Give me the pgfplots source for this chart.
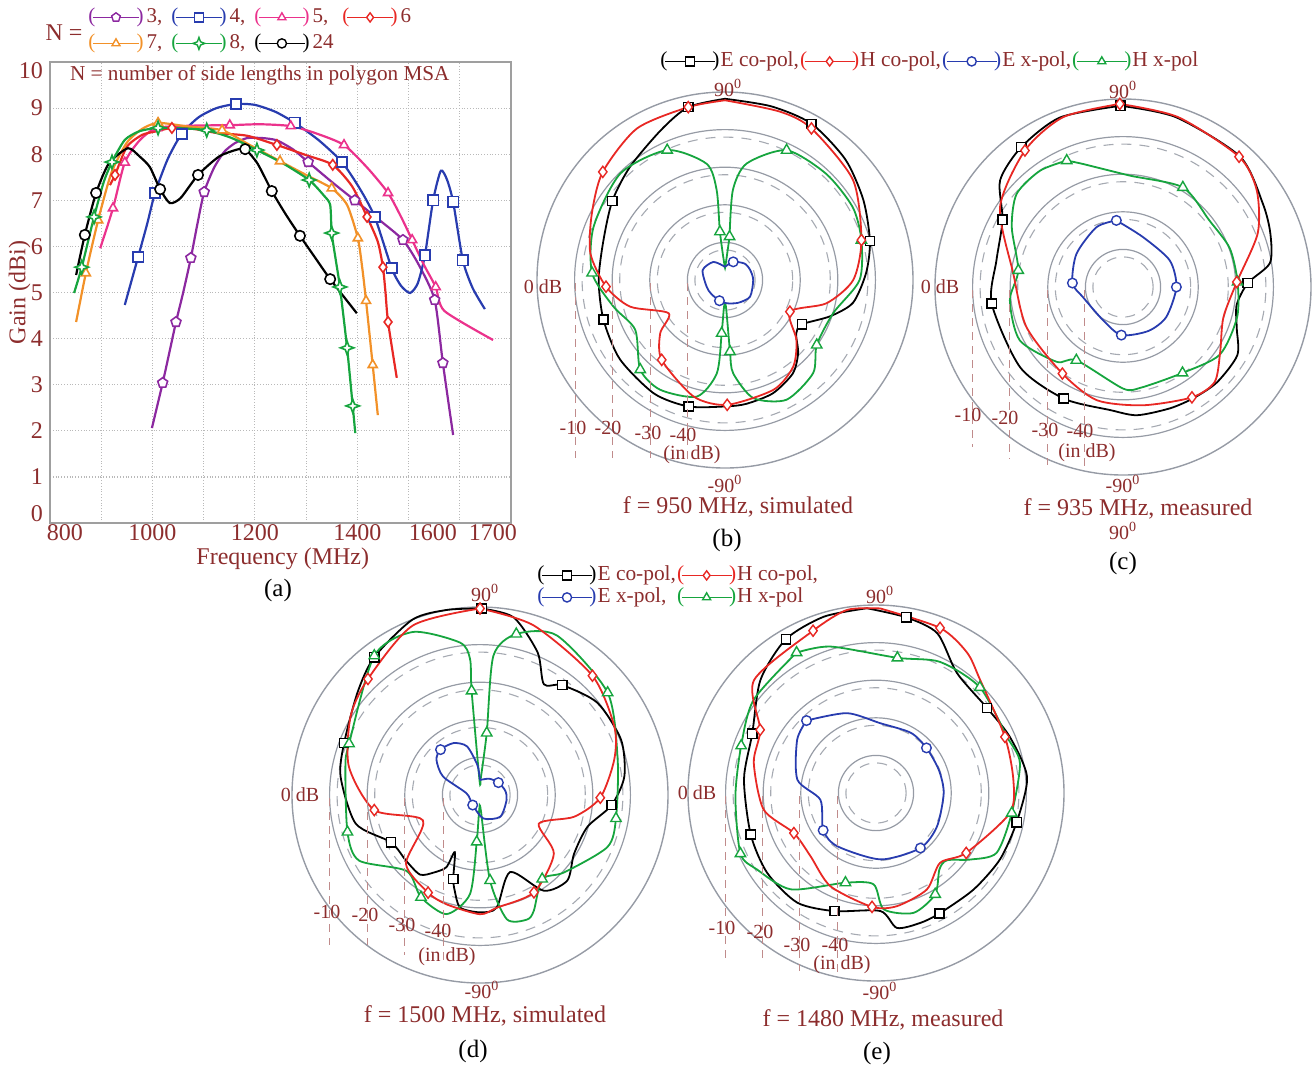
\documentclass[border=0pt]{standalone}
\usepackage{pgfplots}
\pgfplotsset{compat=1.18}
\usepgfplotslibrary{polar}
\usepackage{fontspec}
\setmainfont{Liberation Serif}

\definecolor{txt}{RGB}{140,45,45}
\definecolor{cpurple}{RGB}{140,40,160}
\definecolor{cblue}{RGB}{40,60,175}
\definecolor{cpink}{RGB}{235,50,140}
\definecolor{cred}{RGB}{232,40,36}
\definecolor{corange}{RGB}{242,145,40}
\definecolor{cgreen}{RGB}{22,165,62}
\definecolor{ringgray}{RGB}{150,155,165}

\pgfdeclareplotmark{fourstar}{%
 \pgfpathmoveto{\pgfqpoint{0pt}{1.3\pgfplotmarksize}}%
 \pgfpathlineto{\pgfqpoint{0.35\pgfplotmarksize}{0.35\pgfplotmarksize}}%
 \pgfpathlineto{\pgfqpoint{1.3\pgfplotmarksize}{0pt}}%
 \pgfpathlineto{\pgfqpoint{0.35\pgfplotmarksize}{-0.35\pgfplotmarksize}}%
 \pgfpathlineto{\pgfqpoint{0pt}{-1.3\pgfplotmarksize}}%
 \pgfpathlineto{\pgfqpoint{-0.35\pgfplotmarksize}{-0.35\pgfplotmarksize}}%
 \pgfpathlineto{\pgfqpoint{-1.3\pgfplotmarksize}{0pt}}%
 \pgfpathlineto{\pgfqpoint{-0.35\pgfplotmarksize}{0.35\pgfplotmarksize}}%
 \pgfpathclose\pgfusepathqfillstroke}

\pgfplotsset{
 pstyle/.style={scale only axis, width=188pt, height=188pt, anchor=center,
   xmin=0, xmax=360, ymin=0, ymax=50, y filter/.expression={y+50},
   xtick=\empty, ytick={10,20,30,40}, minor ytick={8,18,28,38}, yticklabels={},
   ymajorgrids=true, yminorgrids=true,
   major grid style={ringgray, line width=0.6pt},
   minor grid style={ringgray!85, line width=0.55pt, dash pattern=on 5pt off 4pt},
   axis line style={ringgray, line width=0.7pt}, y axis line style={draw=none},
   tick style={draw=none}, clip=false},
 ecop/.style={black, line width=0.9pt, smooth, tension=0.45, mark=none},
 hcop/.style={cred, line width=0.9pt, smooth, tension=0.45, mark=none},
 exp/.style={cblue, line width=0.9pt, smooth, tension=0.45, mark=none},
 hxp/.style={cgreen, line width=0.9pt, smooth, tension=0.45, mark=none},
 ecopm/.style={black, only marks, mark=square*, mark size=2.3pt, mark options={fill=white, line width=0.7pt}},
 hcopm/.style={cred, only marks, mark=diamond*, mark size=2.8pt, mark options={fill=white, line width=0.7pt}},
 expm/.style={cblue, only marks, mark=*, mark size=2.4pt, mark options={fill=white, line width=0.7pt}},
 hxpm/.style={cgreen, only marks, mark=triangle*, mark size=3pt, mark options={fill=white, line width=0.7pt}},
 acurve/.style={#1, line width=1.1pt, smooth, tension=0.4, mark=none},
 amark/.style 2 args={#1, only marks, mark=#2, mark size=2.6pt, mark options={fill=white, line width=0.8pt}},
}

\newcommand{\legimg}[4]{%
\addlegendimage{legend image code/.code={%
 \node[text=#1, inner sep=0pt, anchor=west, font=\fontsize{#4}{#4}\selectfont] at (0pt,0pt) {(};%
 \draw[#1, line width=0.9pt] (2.5pt,0pt) -- (#3-2.5pt,0pt);%
 \draw[#1, line width=0.7pt, mark=#2, mark size=2.3pt, mark options={fill=white, solid}] plot coordinates {(0.5*#3,0pt)};%
 \node[text=#1, inner sep=0pt, anchor=east, font=\fontsize{#4}{#4}\selectfont] at (#3,0pt) {)};%
}}}

\tikzset{
 lab/.style={text=txt, font=\fontsize{10}{11}\selectfont, inner sep=0pt},
 tit/.style={text=txt, font=\fontsize{12}{13}\selectfont, inner sep=0pt},
 pan/.style={text=black, font=\fontsize{12.5}{14}\selectfont, inner sep=0pt},
 refl/.style={txt!55, dash pattern=on 4pt off 3pt, line width=0.5pt},
}

\begin{document}
\begin{tikzpicture}[x=0.5pt, y=-0.5pt]
\path[use as bounding box] (0,0) rectangle (1312,1067);

% ================= (a) =================
\begin{axis}[at={(25pt,-261.5pt)}, anchor=south west, scale only axis,
  width=230.5pt, height=230.5pt,
  xmin=800, xmax=1700, ymin=0, ymax=10,
  xtick={800,1000,1200,1400,1600,1700},
  xticklabels={\hspace*{15pt}800,1000,1200,1400,1600\hspace*{27pt},1700\hspace*{18pt}},
  minor xtick={900,1100,1300,1500},
  ytick={0,1,2,3,4,5,6,7,8,9,10},
  yticklabels={\raisebox{1pt}[0pt][0pt]{0},1,2,3,4,5,6,7,8,9,\raisebox{-8pt}[0pt][0pt]{10}},
  xmajorgrids, xminorgrids, ymajorgrids,
  major grid style={gray!55, densely dotted, line width=0.6pt},
  minor grid style={gray!55, densely dotted, line width=0.6pt},
  axis line style={gray!75, line width=0.9pt},
  tick style={draw=none},
  ticklabel style={text=txt, font=\fontsize{12}{13}\selectfont},
  xticklabel style={yshift=3pt},
  label style={text=txt, font=\fontsize{12}{13}\selectfont},
  xlabel={Frequency (MHz)}, ylabel={Gain (dBi)},
  xlabel style={at={(axis description cs:0.505,-0.077)}, anchor=center},
  ylabel style={at={(axis description cs:-0.066,0.5)}, anchor=center},
  clip=false]
\node[text=txt, font=\fontsize{10.6}{12}\selectfont, inner sep=0pt] at (axis description cs:0.455,0.972) {N = number of side lengths in polygon MSA};
% N=3
\addplot[acurve=cpurple] coordinates {(999,2.06) (1020,3.04) (1035,3.8) (1046,4.36) (1060,5.0) (1075,5.75) (1088,6.5) (1101,7.18) (1120,7.7) (1140,8.05) (1161,8.24) (1185,8.35) (1215,8.35) (1243,8.3) (1275,8.1) (1304,7.83) (1350,7.4) (1395,7.0) (1440,6.6) (1489,6.14) (1520,5.6) (1551,4.84) (1567,3.47) (1587,1.91)};
\addplot[amark={cpurple}{pentagon*}] coordinates {(1020,3.04) (1046,4.36) (1075,5.75) (1101,7.18) (1304,7.83) (1395,7.0) (1489,6.14) (1551,4.84) (1567,3.47)};
% N=4
\addplot[acurve=cblue] coordinates {(946,4.73) (972,5.77) (990,6.5) (1005,7.16) (1030,7.9) (1057,8.44) (1090,8.8) (1125,9.0) (1163,9.09) (1200,9.07) (1240,8.92) (1278,8.68) (1325,8.3) (1370,7.83) (1405,7.25) (1434,6.64) (1467,5.53) (1485,5.15) (1503,4.99) (1518,5.2) (1532,5.81) (1548,7.0) (1563,7.64) (1575,7.45) (1587,6.97) (1606,5.7) (1625,5.1) (1649,4.64)};
\addplot[amark={cblue}{square*}] coordinates {(972,5.77) (1005,7.16) (1057,8.44) (1163,9.09) (1278,8.68) (1370,7.83) (1434,6.64) (1467,5.53) (1532,5.81) (1548,7.0) (1587,6.97) (1606,5.7)};
% N=5
\addplot[acurve=cpink] coordinates {(898,5.96) (923,6.83) (946,7.82) (975,8.3) (1009,8.57) (1080,8.62) (1151,8.63) (1210,8.65) (1270,8.61) (1320,8.45) (1374,8.2) (1420,7.7) (1460,7.16) (1485,6.65) (1507,6.14) (1530,5.6) (1553,5.12) (1570,4.6) (1665,3.97)};
\addplot[amark={cpink}{triangle*}] coordinates {(923,6.83) (946,7.82) (1009,8.57) (1151,8.63) (1270,8.61) (1374,8.2) (1460,7.16) (1507,6.14) (1553,5.12)};
% N=6
\addplot[acurve=cred] coordinates {(917,7.33) (927,7.55) (950,8.16) (980,8.42) (1009,8.5) (1038,8.57) (1080,8.55) (1126,8.46) (1185,8.4) (1243,8.2) (1300,7.98) (1352,7.77) (1390,7.3) (1419,6.64) (1440,6.1) (1450,5.55) (1455,5.0) (1460,4.36) (1477,3.15)};
\addplot[amark={cred}{diamond*}] coordinates {(927,7.55) (1038,8.57) (1243,8.2) (1352,7.77) (1419,6.64) (1450,5.55) (1460,4.36)};
% N=7
\addplot[acurve=corange] coordinates {(851,4.36) (870,5.42) (894,6.57) (920,7.6) (950,8.25) (980,8.55) (1011,8.68) (1070,8.6) (1136,8.52) (1190,8.2) (1249,7.85) (1300,7.55) (1350,7.26) (1380,6.9) (1401,6.18) (1410,5.5) (1417,4.82) (1430,3.43) (1440,2.34)};
\addplot[amark={corange}{triangle*}] coordinates {(870,5.42) (894,6.57) (1011,8.68) (1136,8.52) (1249,7.85) (1350,7.26) (1401,6.18) (1417,4.82) (1430,3.43)};
% N=24
\addplot[acurve=black] coordinates {(851,5.38) (868,6.25) (890,7.16) (915,7.8) (952,8.13) (975,7.95) (995,7.72) (1015,7.24) (1034,6.94) (1055,7.05) (1089,7.55) (1130,7.95) (1165,8.1) (1181,8.11) (1205,7.8) (1233,7.2) (1260,6.7) (1288,6.23) (1318,5.75) (1347,5.29) (1399,4.55)};
\addplot[amark={black}{*}] coordinates {(868,6.25) (890,7.16) (1015,7.24) (1089,7.55) (1181,8.11) (1233,7.2) (1288,6.23) (1347,5.29)};
% N=8
\addplot[acurve=cgreen] coordinates {(847,4.99) (862,5.55) (886,6.64) (905,7.4) (921,7.83) (946,8.31) (975,8.5) (1011,8.57) (1060,8.56) (1106,8.52) (1155,8.35) (1204,8.09) (1255,7.8) (1306,7.44) (1335,7.1) (1347,6.9) (1350,6.29) (1358,5.7) (1366,5.12) (1380,3.80) (1391,2.54) (1396,1.95)};
\addplot[amark={cgreen}{fourstar}] coordinates {(862,5.55) (886,6.64) (921,7.83) (1011,8.57) (1106,8.52) (1204,8.09) (1306,7.44) (1350,6.29) (1366,5.12) (1380,3.80) (1391,2.54)};
\end{axis}

% legend (a)
\node[text=txt, font=\fontsize{12}{13}\selectfont, inner sep=0pt] at (64,33) {N =};
\begin{axis}[hide axis, scale only axis, width=2pt, height=2pt, xmin=0, xmax=1, ymin=0, ymax=1,
  at={(44pt,-2pt)}, anchor=north west, legend columns=4,
  legend style={at={(0,1)}, anchor=north west, draw=none, fill=none, inner sep=0pt,
    font=\fontsize{10.5}{12}\selectfont, text=txt, legend cell align=left,
    nodes={inner sep=1.5pt, text height=7.5pt, text depth=2.5pt},
    /tikz/every even column/.append style={column sep=3pt}}]
\legimg{cpurple}{pentagon*}{28pt}{10.5}\addlegendentry{3,}
\legimg{cblue}{square*}{28pt}{10.5}\addlegendentry{4,}
\legimg{cpink}{triangle*}{28pt}{10.5}\addlegendentry{5,}
\legimg{cred}{diamond*}{28pt}{10.5}\addlegendentry{6}
\legimg{corange}{triangle*}{28pt}{10.5}\addlegendentry{7,}
\legimg{cgreen}{fourstar}{28pt}{10.5}\addlegendentry{8,}
\legimg{black}{*}{28pt}{10.5}\addlegendentry{24}
\end{axis}
\node[pan] at (278,590) {(a)};

% ================= (b) =================
\begin{polaraxis}[pstyle, at={(362.5pt,-140pt)}]
\addplot[ecop] coordinates {(90,-1.8) (75,-2.2) (61,-2.5) (45,-4.7) (30,-7.5) (15,-10.1) (3,-12.4) (-10,-15.4) (-19,-20.4) (-30,-26.4) (-37,-26.3) (-45,-22.5) (-54,-19.3) (-67,-17.3) (-80,-16.6) (-89,-16.4) (-106,-15) (-122,-14.4) (-143,-15) (-162,-16) (-180,-16.4) (-198,-16) (-215,-13.4) (-230,-10.7) (-247,-6.6) (-258,-3) (-270,-1.8)};
\addplot[ecopm] coordinates {(-258,-3) (61,-2.5) (15,-10.1) (-30,-26.4) (-106,-15) (-162,-16) (-215,-13.4)};
\addplot[hxp] coordinates {(84,-38.4) (85,-26) (79.5,-18.5) (64.6,-11.8) (46.4,-11) (29.7,-10.9) (16.3,-12.2) (0,-14.2) (-17,-19.9) (-35.3,-20.1) (-46.6,-15.9) (-62.8,-14.2) (-76.5,-17.7) (-85,-25.1) (-86,-30.9) (-88,-42.9) (-92,-42.9) (-93.6,-35.8) (-95,-25.1) (-103.6,-18.1) (-120.6,-16.1) (-133.4,-17.2) (-151,-22.7) (-166.6,-19.5) (-183,-14.6) (-202,-12.3) (-225.5,-10.3) (-246,-12.2) (-261,-18.7) (-264.7,-26) (-264,-37.1) (-268,-46) (-272,-46) (-276,-38.4)};
\addplot[hxpm] coordinates {(84,-38.4) (64.6,-11.8) (16.3,-12.2) (-35.3,-20.1) (-86,-30.9) (-93.6,-35.8) (-133.4,-17.2) (-183,-14.6) (-246,-12.2) (-264,-37.1)};
\addplot[exp] coordinates {(90,-46.5) (65.6,-44.7) (40,-43.2) (21.8,-42.8) (0,-42.5) (-33.7,-42) (-60,-43) (-86,-43.8) (-105,-44.3) (-135,-44.8) (-160,-44.8) (-204,-43.5) (-237.5,-44.3) (-270,-46.5)};
\addplot[expm] coordinates {(65.6,-44.7) (-105,-44.3)};
\addplot[hcop] coordinates {(90,-2.2) (72,-2.9) (60.3,-3.6) (38,-6.8) (16.3,-12.2) (0,-15.9) (-12.9,-22.3) (-26,-30.8) (-40,-25.2) (-51.7,-20.7) (-66,-18.1) (-89,-16.8) (-105,-17.9) (-128.4,-22.9) (-140.6,-27.7) (-149.5,-32.6) (-164.3,-23.8) (-176.8,-18.3) (-191.2,-13.5) (-206.6,-10.4) (-221.5,-6.6) (-239.8,-3.4) (-258,-3.0) (-270,-2.2)};
\addplot[hcopm] coordinates {(60.3,-3.6) (16.3,-12.2) (-26,-30.8) (-89,-16.8) (-128.4,-22.9) (-176.8,-18.3) (-221.5,-6.6) (-258,-3.0)};
\end{polaraxis}
\begin{scope}[shift={(725,280)}]
\draw[refl] (-150,3) -- (-150,178);
\draw[refl] (-113,3) -- (-113,178);
\draw[refl] (-75,3) -- (-75,178);
\draw[refl] (-38,3) -- (-38,180);
\node[lab] at (-152,148) {-10};
\node[lab] at (-117,148) {-20};
\node[lab] at (-77,153) {-30};
\node[lab] at (-42,155) {-40};
\node[lab] at (-33,175) {(in dB)};
\node[lab] at (-182,7) {0 dB};
\node[lab] at (3,-192) {90\textsuperscript{0}};
\node[lab] at (0,204) {-90\textsuperscript{0}};
\end{scope}
\node[tit] at (738,507) {f = 950 MHz, simulated};
\node[pan] at (727,540) {(b)};

% ================= (c) =================
\begin{polaraxis}[pstyle, at={(561.5pt,-143.5pt)}]
\addplot[ecop] coordinates {(90.8,-1.8) (72.6,-2.7) (48,-3.4) (30.8,-6.7) (20,-8.3) (9.3,-10.4) (1.8,-16.8) (-9,-19.4) (-20,-17.8) (-30.8,-14.6) (-45.3,-14.4) (-57.5,-15.0) (-68.8,-15.4) (-83.8,-15.7) (-96,-17.1) (-118,-16.4) (-142,-15.3) (-172.8,-14.8) (-192,-15.6) (-209.2,-13.3) (-221,-6.7) (-234,-4.0) (-249.6,-1.9) (-269.2,-1.8)};
\addplot[ecopm] coordinates {(90.8,-1.8) (1.8,-16.8) (-118,-16.4) (-172.8,-14.8) (-209.2,-13.3) (-234,-4.0)};
\addplot[hxp] coordinates {(114,-13.2) (108,-15.6) (86.6,-20.3) (59,-19.1) (37.6,-21) (20,-19.8) (2.5,-19.5) (-15,-18.6) (-35,-18.6) (-55.3,-22.2) (-80,-22.8) (-90,-23) (-122.5,-26.9) (-131.6,-23.4) (-152.7,-19.1) (-173.3,-19.7) (-189,-21.8) (-208.3,-16.4) (-221.2,-12.4) (-234.5,-12) (-246,-13.2)};
\addplot[hxpm] coordinates {(114,-13.2) (59,-19.1) (2.5,-19.5) (-55.3,-22.2) (-122.5,-26.9) (-189,-21.8)};
\addplot[exp] coordinates {(95.7,-32.2) (68.2,-35.7) (29.7,-35.7) (0,-35.8) (-34.7,-36) (-60,-36.5) (-92,-37.2) (-121,-39.7) (-166,-39) (-184.5,-36.5) (-215.5,-34.8) (-246,-32.6) (-264.3,-32.2)};
\addplot[expm] coordinates {(95.7,-32.2) (0,-35.8) (-92,-37.2) (-184.5,-36.5)};
\addplot[hcop] coordinates {(91,-1.3) (72,-2.5) (48.3,-3.6) (35.9,-6.1) (21.8,-11.4) (2.5,-19.7) (-17,-22.1) (-33.8,-18.9) (-46,-14.9) (-58,-15.4) (-80.4,-18.1) (-103,-19.1) (-125,-21.9) (-157.5,-22.2) (-187,-20.6) (-213,-11) (-234.3,-5.3) (-250.6,-2.1) (-269,-1.3)};
\addplot[hcopm] coordinates {(91,-1.3) (48.3,-3.6) (2.5,-19.7) (-58,-15.4) (-125,-21.9) (-234.3,-5.3)};
\end{polaraxis}
\begin{scope}[shift={(1123,287)}]
\draw[refl] (-151,3) -- (-151,160);
\draw[refl] (-114,3) -- (-114,172);
\draw[refl] (-76,3) -- (-76,178);
\draw[refl] (-39,3) -- (-39,180);
\node[lab] at (-155,128) {-10};
\node[lab] at (-118,131) {-20};
\node[lab] at (-78,143) {-30};
\node[lab] at (-43,144) {-40};
\node[lab] at (-36,166) {(in dB)};
\node[lab] at (-183,0) {0 dB};
\node[lab] at (0,-197) {90\textsuperscript{0}};
\node[lab] at (0,197) {-90\textsuperscript{0}};
\end{scope}
\node[tit] at (1138,509) {f = 935 MHz, measured};
\node[lab] at (1123,531) {90\textsuperscript{0}};
\node[pan] at (1123,563) {(c)};

% legend (b)/(c)
\begin{axis}[hide axis, scale only axis, width=2pt, height=2pt, xmin=0, xmax=1, ymin=0, ymax=1,
  at={(330pt,-25pt)}, anchor=north west, legend columns=4,
  legend style={at={(0,1)}, anchor=north west, draw=none, fill=none, inner sep=0pt,
    font=\fontsize{10.7}{12}\selectfont, text=txt, legend cell align=left,
    nodes={inner sep=0.5pt, text height=7.5pt, text depth=2.5pt},
    /tikz/every even column/.append style={column sep=0pt}}]
\legimg{black}{square*}{30pt}{10.7}\addlegendentry{E co-pol,}
\legimg{cred}{diamond*}{30pt}{10.7}\addlegendentry{H co-pol,}
\legimg{cblue}{*}{30pt}{10.7}\addlegendentry{E x-pol,}
\legimg{cgreen}{triangle*}{30pt}{10.7}\addlegendentry{H x-pol}
\end{axis}

% ================= (d) =================
\begin{polaraxis}[pstyle, at={(240pt,-397.5pt)}]
\addplot[ecop] coordinates {(89.5,-0.4) (79.3,-1.9) (68,-9.1) (60,-16) (53.2,-13.5) (38.2,-10.3) (21.4,-9.7) (7.3,-11.3) (-4.4,-14.9) (-16.5,-20.2) (-32,-20.5) (-44.4,-17.5) (-56.3,-19.4) (-68.6,-28) (-81.6,-19.7) (-90,-18.8) (-100,-19.6) (-104.7,-23.6) (-107.7,-26.6) (-113.8,-33.4) (-115,-28.8) (-120.8,-26) (-127,-23.5) (-138.4,-23.7) (-152,-23.2) (-167,-16.1) (-187.5,-12.6) (-201,-11.3) (-220,-7.5) (-232.5,-3.8) (-249,0) (-260,0) (-270.5,-0.4)};
\addplot[ecopm] coordinates {(89.5,-0.4) (53.2,-13.5) (-4.4,-14.9) (-107.7,-26.6) (-152,-23.2) (-201,-11.3) (-232.5,-3.8)};
\addplot[hxp] coordinates {(88,-46) (83.8,-33.4) (84.5,-12.8) (77.3,-6.1) (64.2,-2.9) (38.7,-6.5) (14.4,-12.2) (-9.8,-13.3) (-22.2,-13.4) (-42.6,-19.6) (-53.5,-22.2) (-65,-16.1) (-69.3,-14.6) (-77.8,-16.2) (-83.3,-27.1) (-87,-46) (-93,-46) (-94,-37.5) (-95.8,-23.5) (-105.7,-17.1) (-120,-18.6) (-134,-21.9) (-151.6,-13.4) (-164.4,-13.4) (-192,-13.4) (-201.4,-12.6) (-232.8,-3.5) (-247.6,-3.1) (-262.5,-9.1) (-265.8,-13.7) (-265.4,-22.2) (-268,-46) (-272,-46)};
\addplot[hxpm] coordinates {(83.8,-33.4) (77.3,-6.1) (38.7,-6.5) (-9.8,-13.3) (-53.5,-22.2) (-83.3,-27.1) (-94,-37.5) (-120,-18.6) (-164.4,-13.4) (-201.4,-12.6) (-232.8,-3.5) (-265.4,-22.2)};
\addplot[exp] coordinates {(90,-46) (60,-45) (34,-44.1) (10,-43.2) (-10.6,-42.8) (-47,-42.1) (-82,-43.7) (-126,-46.7) (-187,-46.4) (-206.6,-39) (-219,-35.1) (-229,-34) (-243,-34.5) (-255,-36.6) (-265,-42) (-270,-46)};
\addplot[expm] coordinates {(34,-44.1) (-126,-46.7) (-229,-34)};
\addplot[hcop] coordinates {(90,-0.4) (72.4,-2.7) (46.7,-6.4) (27,-9.9) (14.7,-13.1) (-1.3,-18) (-13,-24.3) (-26,-32.6) (-38.5,-24.9) (-61,-20.4) (-81.5,-19.7) (-90,-18.3) (-107,-19.6) (-118,-20.6) (-137,-23.1) (-156,-33.4) (-171.9,-21.6) (-192.3,-14.3) (-211.4,-9.7) (-226,-7.1) (-248.4,-1.5) (-270,-0.4)};
\addplot[hcopm] coordinates {(90,-0.4) (46.7,-6.4) (-1.3,-18) (-61,-20.4) (-118,-20.6) (-171.9,-21.6) (-226,-7.1)};
\end{polaraxis}
\begin{scope}[shift={(480,795)}]
\draw[refl] (-151,3) -- (-151,150);
\draw[refl] (-113,3) -- (-113,150);
\draw[refl] (-76,3) -- (-76,160);
\draw[refl] (-37,3) -- (-37,165);
\node[lab] at (-153,117) {-10};
\node[lab] at (-115,120) {-20};
\node[lab] at (-78,130) {-30};
\node[lab] at (-42,136) {-40};
\node[lab] at (-33,162) {(in dB)};
\node[lab] at (-180,0) {0 dB};
\node[lab] at (5,-202) {90\textsuperscript{0}};
\node[lab] at (2,195) {-90\textsuperscript{0}};
\end{scope}
\node[tit] at (485,1016) {f = 1500 MHz, simulated};
\node[pan] at (473,1051) {(d)};

% ================= (e) =================
\begin{polaraxis}[pstyle, at={(438pt,-396.5pt)}]
\addplot[ecop] coordinates {(92.8,-0.8) (80.2,-2.6) (69,-4.5) (56,-11.5) (37.4,-12.8) (22.7,-11.4) (6,-9.6) (-11.8,-11.8) (-28.2,-12.6) (-44.7,-13.5) (-62.2,-13.8) (-71.2,-13.5) (-81.2,-13.7) (-87.9,-18.6) (-109.4,-16.7) (-125.7,-14.1) (-143.7,-14.1) (-161.7,-14.9) (-186,-14.7) (-205.6,-13.5) (-224.4,-7) (-239.6,-2.6) (-253.5,-1.1) (-267.2,-0.8)};
\addplot[ecopm] coordinates {(80.2,-2.6) (37.4,-12.8) (-11.8,-11.8) (-62.2,-13.8) (-109.4,-16.7) (-161.7,-14.9) (-205.6,-13.5) (-239.6,-2.6)};
\addplot[hxp] coordinates {(119.5,-7.1) (107.3,-9.2) (81,-13.6) (64,-11.2) (45.5,-10.6) (23.4,-12.1) (11.8,-10.9) (-8.4,-13.5) (-26.4,-14.2) (-35.2,-19.3) (-43.5,-24) (-50.3,-23.6) (-59.7,-18.8) (-72.6,-16.6) (-86.2,-19) (-91.5,-25.7) (-108.8,-24.8) (-131.5,-15.8) (-147.2,-12.4) (-155.9,-10.5) (-178.6,-12.6) (-199.3,-12) (-217.3,-9.1) (-240.5,-7.1)};
\addplot[hxpm] coordinates {(119.5,-7.1) (81,-13.6) (45.5,-10.6) (-8.4,-13.5) (-59.7,-18.8) (-108.8,-24.8) (-155.9,-10.5) (-199.3,-12)};
\addplot[exp] coordinates {(133.8,-23.3) (110,-27.4) (86.5,-31.4) (60,-31.5) (41.8,-32) (20,-32.2) (0,-32) (-28.7,-31.5) (-51.1,-31.2) (-86,-32.3) (-126,-32.5) (-144.8,-32.8) (-173,-35.1) (-189.6,-28.8) (-214,-24.7) (-226.2,-23.3)};
\addplot[expm] coordinates {(133.8,-23.3) (41.8,-32) (-51.1,-31.2) (-144.8,-32.8)};
\addplot[hcop] coordinates {(88.7,-0.9) (68.8,-2.9) (57,-5.5) (47.4,-9.1) (23.5,-12.6) (5.5,-13.3) (-8.5,-14) (-33.6,-21.2) (-47.4,-24.8) (-62.2,-21) (-79.5,-19.4) (-92,-19.7) (-116,-22.4) (-136,-25.8) (-154,-25.7) (-171.6,-19.8) (-194,-16.5) (-208.6,-14.9) (-222.8,-5.8) (-248.8,-3.7) (-261,-0.7) (-271.3,-0.9)};
\addplot[hcopm] coordinates {(68.8,-2.9) (23.5,-12.6) (-33.6,-21.2) (-92,-19.7) (-154,-25.7) (-208.6,-14.9) (-248.8,-3.7)};
\end{polaraxis}
\begin{scope}[shift={(876,793)}]
\draw[refl] (-151,3) -- (-151,165);
\draw[refl] (-114,3) -- (-114,165);
\draw[refl] (-77,3) -- (-77,178);
\draw[refl] (-39,3) -- (-39,180);
\node[lab] at (-154,135) {-10};
\node[lab] at (-116,139) {-20};
\node[lab] at (-79,152) {-30};
\node[lab] at (-41,152) {-40};
\node[lab] at (-34,172) {(in dB)};
\node[lab] at (-179,0) {0 dB};
\node[lab] at (4,-198) {90\textsuperscript{0}};
\node[lab] at (4,198) {-90\textsuperscript{0}};
\end{scope}
\node[tit] at (883,1020) {f = 1480 MHz, measured};
\node[pan] at (877,1053) {(e)};

% legend (d)/(e)
\begin{axis}[hide axis, scale only axis, width=2pt, height=2pt, xmin=0, xmax=1, ymin=0, ymax=1,
  at={(268.5pt,-282pt)}, anchor=north west, legend columns=2,
  legend style={at={(0,1)}, anchor=north west, draw=none, fill=none, inner sep=0pt,
    font=\fontsize{10.7}{12}\selectfont, text=txt, legend cell align=left,
    nodes={inner sep=0.5pt, text height=7.5pt, text depth=2.5pt},
    /tikz/every even column/.append style={column sep=0pt}}]
\legimg{black}{square*}{30pt}{10.7}\addlegendentry{E co-pol,}
\legimg{cred}{diamond*}{30pt}{10.7}\addlegendentry{H co-pol,}
\legimg{cblue}{*}{30pt}{10.7}\addlegendentry{E x-pol,}
\legimg{cgreen}{triangle*}{30pt}{10.7}\addlegendentry{H x-pol}
\end{axis}

\end{tikzpicture}
\end{document}
